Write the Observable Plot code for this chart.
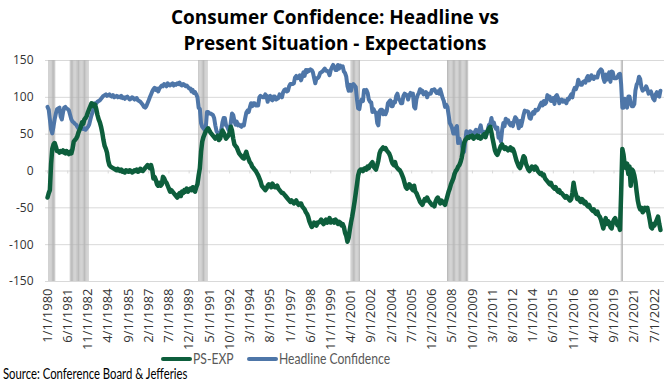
<!DOCTYPE html>
<html><head><meta charset="utf-8">
<script src="https://cdn.jsdelivr.net/npm/d3@7"></script>
<script src="https://cdn.jsdelivr.net/npm/@observablehq/plot@0.6"></script>
<style>
body{margin:0;background:#fff;}
#wrap{width:670px;height:385px;position:relative;overflow:hidden;background:#fff;}
#title{position:absolute;top:4px;left:0;width:670px;text-align:center;font-family:"Open Sans",sans-serif;font-weight:700;font-size:19px;line-height:26px;color:#000;}
#chart{position:absolute;top:55px;left:0;}
#legend{position:absolute;top:349px;left:0;width:670px;height:18px;font-family:Lato,sans-serif;font-size:15px;color:#595959;}
.sw{position:absolute;height:4px;top:8px;width:31px;border-radius:2px;}
.lt{position:absolute;top:0;line-height:19px;transform-origin:0 50%;transform:scaleX(0.81);white-space:nowrap;}
#source{position:absolute;left:3px;top:365px;font-family:Lato,sans-serif;font-size:14.5px;color:#000;line-height:18px;transform-origin:0 50%;transform:scaleX(0.78);white-space:nowrap;}
</style></head>
<body>
<div id="wrap">
  <div id="title">Consumer Confidence: Headline vs<br>Present Situation - Expectations</div>
  <div id="chart"></div>
  <div id="legend">
    <span class="sw" style="left:161px;background:#0d5e3c"></span><span class="lt" style="left:193px">PS-EXP</span>
    <span class="sw" style="left:247px;background:#4e76a8"></span><span class="lt" style="left:279px">Headline Confidence</span>
  </div>
  <div id="source">Source: Conference Board &amp; Jefferies</div>
</div>
<script>
const startYear = 1980;
const seriesNames = ["PS-EXP", "Headline Confidence"];
const yTicks = [-150, -100, -50, 0, 50, 100, 150];
const xTickLabels = ["1/1/1980","6/1/1981","11/1/1982","4/1/1984","9/1/1985","2/1/1987","7/1/1988","12/1/1989","5/1/1991","10/1/1992","3/1/1994","8/1/1995","1/1/1997","6/1/1998","11/1/1999","4/1/2001","9/1/2002","2/1/2004","7/1/2005","12/1/2006","5/1/2008","10/1/2009","3/1/2011","8/1/2012","1/1/2014","6/1/2015","11/1/2016","4/1/2018","9/1/2019","2/1/2021","7/1/2022"];
const recessions = [["1980-02","1980-07"],["1981-08","1982-11"],["1990-08","1991-03"],["2001-04","2001-11"],["2008-01","2009-06"],["2020-03","2020-04"]];

// Monthly, Jan 1980 - Dec 2022 (one row per year)
const headline = [
87,83,70,56,51,60,70,78,84,85,86,74,
70,80,86,87,85,84,82,76,70,67,66,64,
63,60,58,60,62,58,57,58,56,58,60,63,
70,76,80,86,92,92,94,95,96,98,100,102,
103,104,102,103,104,102,101,103,100,101,102,100,
101,100,102,99,100,98,100,101,99,97,98,100,
99,97,98,99,96,95,94,92,90,87,86,88,
92,96,100,104,108,111,113,110,112,108,112,114,
116,115,118,117,115,119,117,116,118,119,116,118,
117,119,118,120,117,116,118,117,115,116,114,112,
112,108,110,106,107,104,100,86,84,65,60,58,
56,60,80,80,78,78,77,76,72,62,54,52,
46,48,56,66,72,72,62,60,56,54,66,78,
76,68,63,67,62,63,61,60,63,62,71,79,
82,80,86,92,88,92,92,89,89,89,100,102,
101,100,100,104,102,94,101,102,97,96,101,101,
97,98,99,104,103,100,107,110,111,108,109,115,
118,118,118,119,127,129,126,127,130,123,128,134,
129,137,134,137,136,138,137,134,126,119,126,126,
128,133,134,135,137,139,136,136,134,130,137,141,
144,141,137,137,144,139,143,141,142,135,133,128,
115,109,117,109,116,118,116,114,97,85,84,94,
97,95,110,108,110,106,97,94,93,80,84,80,
79,65,62,81,83,83,77,81,77,81,92,94,
96,88,88,94,93,102,105,98,96,92,92,102,
105,104,103,97,103,106,103,105,87,85,98,103,
106,111,107,109,104,105,107,100,105,105,105,110,
110,111,108,106,108,105,111,105,99,95,87,90,
87,76,65,62,58,51,51,58,61,38,44,38,
37,25,26,40,54,49,47,54,53,48,50,53,
56,46,52,57,62,53,51,53,48,50,57,63,
64,72,63,66,60,57,59,45,46,40,56,65,
61,71,69,69,64,62,65,61,68,73,71,66,
58,68,61,68,76,82,81,81,80,72,71,77,
80,78,83,82,83,86,90,93,89,95,91,93,
103,98,101,95,95,99,91,101,103,99,92,96,
97,94,96,94,92,98,97,101,104,100,109,113,
111,116,124,119,117,117,121,122,120,126,129,123,
125,130,127,125,128,127,127,134,136,138,136,126,
121,131,124,129,134,121,135,134,126,126,126,128,
131,132,118,86,86,98,91,86,101,101,92,88,
88,91,109,117,120,128,125,114,109,111,111,115,
111,105,107,108,103,98,96,104,107,102,101,109
];

const psExp = [
-36,-30,-26,10,30,36,38,33,27,27,25,27,
26,28,25,24,27,25,23,26,24,30,40,42,
44,47,52,56,60,66,64,70,72,75,80,84,
88,92,91,88,90,84,76,70,66,60,52,42,
34,30,25,14,8,6,5,4,3,2,1,3,
1,0,2,-1,0,-2,1,0,-1,1,0,-2,
-1,1,0,2,-1,0,3,1,0,2,4,6,
8,6,4,8,2,-10,-8,-12,-18,-20,-16,-20,
-18,-8,-10,-14,-16,-20,-24,-28,-26,-28,-30,-32,
-34,-36,-32,-30,-34,-28,-30,-26,-28,-24,-28,-26,
-24,-26,-22,-24,-28,-22,-18,-6,4,26,40,46,
50,54,56,58,55,52,50,48,46,44,46,48,
42,44,50,55,52,48,44,46,48,52,60,55,
44,36,34,32,28,24,22,20,18,17,22,26,
20,16,12,10,6,4,2,0,-3,-6,-10,-14,
-20,-22,-24,-26,-24,-20,-18,-20,-22,-17,-20,-22,
-22,-20,-24,-26,-28,-30,-30,-32,-34,-36,-38,-40,
-42,-40,-42,-44,-42,-40,-44,-46,-44,-44,-48,-50,
-52,-56,-58,-62,-68,-72,-76,-74,-70,-72,-74,-70,
-70,-68,-66,-70,-72,-68,-66,-70,-68,-64,-70,-68,
-67,-70,-66,-68,-72,-69,-70,-74,-72,-76,-84,-88,
-96,-90,-80,-70,-62,-52,-42,-30,-18,-6,0,2,
2,0,3,4,2,6,4,8,10,12,6,4,
2,8,14,24,28,30,32,30,31,28,26,24,
20,14,10,8,12,6,4,2,1,-2,-6,-10,
-16,-22,-24,-22,-18,-20,-24,-26,-20,-28,-30,-34,
-38,-42,-44,-46,-42,-38,-40,-36,-40,-42,-44,-46,
-46,-48,-42,-38,-36,-40,-44,-40,-42,-44,-46,-40,
-34,-28,-24,-18,-14,-10,-4,0,2,6,8,12,
18,28,38,42,44,46,45,47,46,48,44,46,
46,48,45,47,44,46,48,50,46,52,55,58,
60,52,44,36,28,24,22,26,30,34,36,32,
30,32,30,28,30,32,28,30,26,20,14,10,
6,4,8,14,20,18,10,6,2,0,3,6,
4,2,6,4,0,-2,-4,-3,-6,-5,-10,-12,
-14,-16,-18,-16,-20,-22,-24,-22,-26,-28,-26,-30,
-30,-32,-34,-36,-34,-36,-38,-40,-38,-30,-16,-26,
-32,-38,-36,-40,-42,-38,-40,-44,-42,-46,-48,-46,
-50,-52,-54,-52,-56,-58,-55,-60,-62,-66,-72,-78,
-70,-64,-72,-68,-70,-76,-78,-70,-66,-64,-70,-74,
-74,-80,-30,30,22,8,4,10,-4,6,-20,2,
0,-6,-14,-28,-40,-48,-52,-50,-56,-54,-50,-52,
-50,-58,-66,-76,-78,-72,-74,-70,-66,-62,-72,-80
];

const rows = headline.map((h, i) => ({date: new Date(startYear, i, 1), headline: h, psExp: psExp[i]}));
const tickDates = xTickLabels.map(s => { const [m, d, y] = s.split("/").map(Number); return new Date(y, m - 1, d); });
const labelByTime = new Map(tickDates.map((d, i) => [+d, xTickLabels[i]]));
const recMonths = [];
for (const [a, b] of recessions) {
  const [ya, ma] = a.split("-").map(Number), [yb, mb] = b.split("-").map(Number);
  for (let k = (ya * 12 + ma - 1); k <= (yb * 12 + mb - 1); k++) {
    recMonths.push({x1: new Date(Math.floor(k / 12), k % 12, 1), x2: new Date(Math.floor(k / 12), k % 12 + 1, 1)});
  }
}

const chart = Plot.plot({
  width: 670, height: 292,
  marginTop: 5, marginBottom: 66, marginLeft: 45, marginRight: 6,
  x: {type: "time", domain: [new Date(1979, 10, 10), new Date(2023, 2, 15)]},
  y: {domain: [yTicks[0], yTicks[yTicks.length - 1]]},
  style: {fontFamily: "'Open Sans', sans-serif", fontSize: "12px", color: "#333", background: "white", overflow: "visible"},
  marks: [
    Plot.ruleY(yTicks, {stroke: "#d9d9d9", strokeWidth: 1}),
    Plot.rect(recMonths, {x1: "x1", x2: "x2", y1: yTicks[0], y2: yTicks[yTicks.length - 1], fill: "#b5b5b5", insetLeft: 0.15, insetRight: 0.15}),
    Plot.ruleX(tickDates, {x: d => d, y1: 0, y2: -4, stroke: "#d9d9d9"}),
    Plot.line(rows, {x: "date", y: "headline", stroke: "#4e76a8", strokeWidth: 4}),
    Plot.line(rows, {x: "date", y: "psExp", stroke: "#0d5e3c", strokeWidth: 4.5}),
    Plot.axisY({ticks: yTicks, tickSize: 0, tickPadding: 12, tickFormat: d => String(d)}),
    Plot.axisX({ticks: tickDates, tickFormat: d => labelByTime.get(+d), tickRotate: -90, tickSize: 0, tickPadding: 7, fontSize: 13})
  ]
});
document.getElementById("chart").appendChild(chart);
</script>
</body></html>
